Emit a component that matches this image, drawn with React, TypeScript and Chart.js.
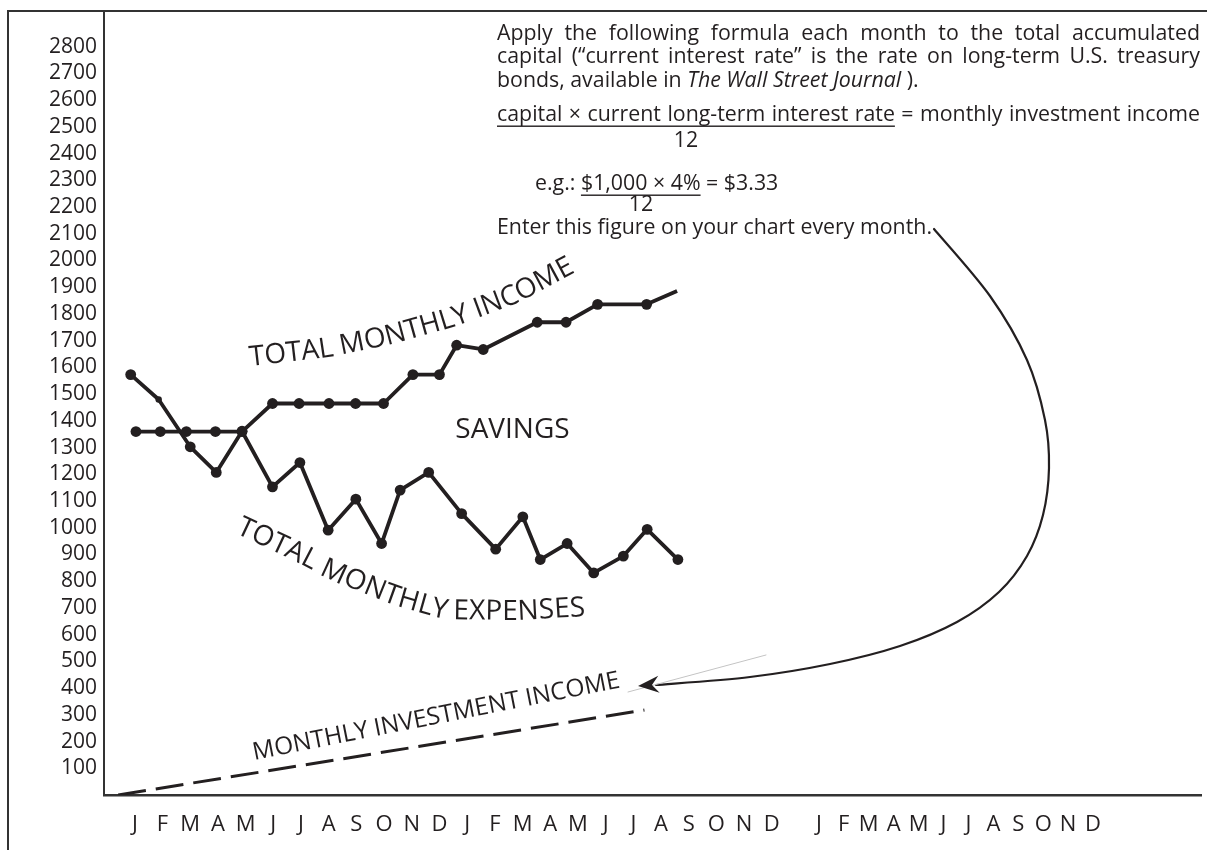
import React, { useEffect, useRef } from 'react';
import { Chart, registerables } from 'chart.js';

Chart.register(...registerables);

// ---------------- data ----------------
const monthLetters = ['J', 'F', 'M', 'A', 'M', 'J', 'J', 'A', 'S', 'O', 'N', 'D'];
const xTickLabels = [...monthLetters, ...monthLetters, ...monthLetters];
const xTickMonths = [
  0, 1, 2, 3, 4, 5, 6, 7, 8, 9, 10, 11,
  12, 13, 14, 15, 16, 17, 18, 19, 20, 21, 22, 23,
  24.7, 25.6, 26.5, 27.4, 28.3, 29.2, 30.1, 31.0, 31.9, 32.8, 33.7, 34.6,
];
const yTickValues = [
  100, 200, 300, 400, 500, 600, 700, 800, 900, 1000, 1100, 1200, 1300, 1400,
  1500, 1600, 1700, 1800, 1900, 2000, 2100, 2200, 2300, 2400, 2500, 2600, 2700, 2800,
];

const incomeMonths = [0.04, 0.92, 1.86, 2.91, 3.87, 4.97, 5.93, 7.01, 7.97, 8.98, 10.04, 11.0, 11.62, 12.58, 14.53, 15.57, 16.71, 18.48, 19.58];
const incomeValues = [1360, 1360, 1360, 1360, 1360, 1465, 1465, 1465, 1465, 1465, 1573, 1573, 1683, 1667, 1769, 1769, 1836, 1836, 1886];

const expenseMonths = [-0.15, 0.86, 2.0, 2.94, 3.87, 4.97, 5.96, 6.98, 7.98, 8.91, 9.58, 10.61, 11.8, 13.03, 14.01, 14.64, 15.61, 16.57, 17.64, 18.5, 19.61];
const expenseValues = [1573, 1480, 1303, 1207, 1361, 1153, 1244, 991, 1107, 941, 1141, 1207, 1053, 920, 1041, 881, 941, 831, 894, 994, 881];

const investmentMonths = [-0.6, 18.4];
const investmentValues = [0, 318];

// ---------------- annotation config ----------------
const incomeLabelPath = [[4.168, 1605.2], [7.007, 1638.9], [9.163, 1683.8], [11.498, 1751.2], [13.834, 1841.0], [15.918, 1957.0]];
const expenseLabelPath = [[3.629, 980.4], [5.929, 868.1], [7.007, 808.2], [9.342, 710.9], [11.139, 658.6], [13.834, 654.8], [16.277, 669.8]];
const savingsAnchor = [13.636, 1335.8];
const investLabelAnchor = [4.312, 131];

const noteLine1 = 'Apply the following formula each month to the total accumulated';
const noteLine2 = 'capital (\u201Ccurrent interest rate\u201D is the rate on long-term U.S. treasury';
const noteLine4 = 'capital \u00D7 current long-term interest rate = monthly investment income';
const noteEnter = 'Enter this figure on your chart every month.';

const INK = '#231f20';
const FONT = '"Open Sans", "Noto Sans", "DejaVu Sans", sans-serif';

function font(size: number, italic = false) {
  return `${italic ? 'italic ' : ''}${size}px ${FONT}`;
}

function drawScaled(ctx: CanvasRenderingContext2D, text: string, x: number, y: number, sx: number) {
  ctx.save();
  ctx.translate(x, y);
  ctx.scale(sx, 1);
  ctx.fillText(text, 0, 0);
  ctx.restore();
}

function drawJustified(ctx: CanvasRenderingContext2D, text: string, x0: number, x1: number, y: number, sx: number, underlineWords = 0) {
  const words = text.split(' ');
  const ws = words.map((w) => ctx.measureText(w).width * sx);
  const sum = ws.reduce((a, b) => a + b, 0);
  const gap = words.length > 1 ? (x1 - x0 - sum) / (words.length - 1) : 0;
  let x = x0;
  let ulEnd = x0;
  words.forEach((w, i) => {
    drawScaled(ctx, w, x, y, sx);
    x += ws[i];
    if (i === underlineWords - 1) ulEnd = x;
    x += gap;
  });
  return ulEnd;
}

type Run = { t: string; italic?: boolean; underline?: boolean };
function drawRuns(ctx: CanvasRenderingContext2D, runs: Run[], x: number, y: number, sx: number, size: number) {
  for (const r of runs) {
    ctx.font = font(size, !!r.italic);
    const w = ctx.measureText(r.t).width * sx;
    drawScaled(ctx, r.t, x, y, sx);
    if (r.underline) ctx.fillRect(x, y + 4.5, w, 1.4);
    x += w;
  }
  ctx.font = font(size);
  return x;
}

function textAlongPath(ctx: CanvasRenderingContext2D, text: string, pts: number[][], size: number) {
  ctx.font = font(size);
  const cum = [0];
  for (let i = 1; i < pts.length; i++) {
    cum.push(cum[i - 1] + Math.hypot(pts[i][0] - pts[i - 1][0], pts[i][1] - pts[i - 1][1]));
  }
  const total = cum[cum.length - 1];
  const at = (s: number) => {
    s = Math.max(0, Math.min(total, s));
    let i = 1;
    while (i < cum.length - 1 && cum[i] < s) i++;
    const t = (s - cum[i - 1]) / (cum[i] - cum[i - 1] || 1);
    return [pts[i - 1][0] + (pts[i][0] - pts[i - 1][0]) * t, pts[i - 1][1] + (pts[i][1] - pts[i - 1][1]) * t];
  };
  const chars = Array.from(text);
  const ws = chars.map((c) => ctx.measureText(c).width);
  const sum = ws.reduce((a, b) => a + b, 0);
  const extra = chars.length > 1 ? (total - sum) / (chars.length - 1) : 0;
  let s = 0;
  ctx.textAlign = 'center';
  ctx.textBaseline = 'alphabetic';
  chars.forEach((c, i) => {
    const mid = s + ws[i] / 2;
    const p = at(mid);
    const a = at(mid - 14);
    const b = at(mid + 14);
    const ang = Math.atan2(b[1] - a[1], b[0] - a[0]);
    ctx.save();
    ctx.translate(p[0], p[1]);
    ctx.rotate(ang);
    ctx.fillText(c, 0, 0);
    ctx.restore();
    s += ws[i] + extra;
  });
}

function smoothStroke(ctx: CanvasRenderingContext2D, pts: number[][]) {
  ctx.beginPath();
  ctx.moveTo(pts[0][0], pts[0][1]);
  for (let i = 0; i < pts.length - 1; i++) {
    const p0 = pts[i - 1] || pts[i];
    const p1 = pts[i];
    const p2 = pts[i + 1];
    const p3 = pts[i + 2] || p2;
    ctx.bezierCurveTo(
      p1[0] + (p2[0] - p0[0]) / 6, p1[1] + (p2[1] - p0[1]) / 6,
      p2[0] - (p3[0] - p1[0]) / 6, p2[1] - (p3[1] - p1[1]) / 6,
      p2[0], p2[1]
    );
  }
  ctx.stroke();
}

const arrowPts = [
  [934, 229], [990, 296], [1027, 360], [1045, 420], [1049, 468], [1043, 515], [1027, 556],
  [999, 592], [957, 622], [900, 646], [830, 664], [750, 677], [656, 685],
];

const decorPlugin = {
  id: 'decor',
  afterDraw(chart: any) {
    const ctx: CanvasRenderingContext2D = chart.ctx;
    const xs = chart.scales.x;
    const ys = chart.scales.y;
    const toPx = (p: number[]) => [xs.getPixelForValue(p[0]), ys.getPixelForValue(p[1])];
    const area = chart.chartArea;
    ctx.save();

    // outer frame
    ctx.strokeStyle = '#333';
    ctx.lineWidth = 2;
    ctx.beginPath();
    ctx.moveTo(8, chart.height);
    ctx.lineTo(8, area.top);
    ctx.lineTo(chart.width, area.top);
    ctx.stroke();

    ctx.fillStyle = INK;

    // series labels
    textAlongPath(ctx, 'TOTAL MONTHLY INCOME', incomeLabelPath.map(toPx), 28);
    textAlongPath(ctx, 'TOTAL MONTHLY EXPENSES', expenseLabelPath.map(toPx), 28);

    ctx.font = font(28);
    ctx.textAlign = 'center';
    ctx.textBaseline = 'alphabetic';
    const sp = toPx(savingsAnchor);
    ctx.fillText('SAVINGS', sp[0], sp[1]);

    const ip = toPx(investLabelAnchor);
    ctx.save();
    ctx.translate(ip[0], ip[1]);
    ctx.rotate((-11.2 * Math.PI) / 180);
    ctx.font = font(24.5);
    ctx.textAlign = 'left';
    ctx.fillText('MONTHLY INVESTMENT INCOME', 0, 0);
    ctx.restore();

    // explanatory note
    ctx.font = font(21);
    ctx.textAlign = 'left';
    ctx.textBaseline = 'alphabetic';
    const sx = 435 / ctx.measureText(noteEnter).width;
    drawJustified(ctx, noteLine1, 497, 1200, 40, sx);
    drawJustified(ctx, noteLine2, 497, 1200, 63, sx);
    drawRuns(ctx, [{ t: 'bonds, available in ' }, { t: 'The Wall Street Journal', italic: true }, { t: ' ).' }], 497, 87, sx, 21);
    const ulEnd = drawJustified(ctx, noteLine4, 497, 1200, 121, sx, 6);
    ctx.fillRect(497, 125.5, ulEnd - 497, 1.4);
    ctx.textAlign = 'center';
    drawScaled(ctx, '12', 686, 147, sx);
    ctx.textAlign = 'left';
    drawRuns(ctx, [{ t: 'e.g.: ' }, { t: '$1,000 \u00D7 4%', underline: true }, { t: ' = $3.33' }], 535, 190, sx, 21);
    ctx.textAlign = 'center';
    drawScaled(ctx, '12', 641, 211, sx);
    ctx.textAlign = 'left';
    drawScaled(ctx, noteEnter, 497, 234, sx);

    // arrow
    ctx.strokeStyle = INK;
    ctx.lineWidth = 2.2;
    ctx.lineCap = 'round';
    smoothStroke(ctx, arrowPts);
    // thin grey guide
    ctx.strokeStyle = '#c4c4c4';
    ctx.lineWidth = 1;
    ctx.beginPath();
    ctx.moveTo(628, 692);
    ctx.lineTo(766, 655);
    ctx.stroke();
    // arrowhead
    const tip = [638, 686];
    const last = arrowPts[arrowPts.length - 2];
    let dx = tip[0] - last[0];
    let dy = tip[1] - last[1];
    const L = Math.hypot(dx, dy);
    dx /= L; dy /= L;
    const nx = -dy, ny = dx;
    const bx = tip[0] - dx * 21, by = tip[1] - dy * 21;
    ctx.fillStyle = INK;
    ctx.beginPath();
    ctx.moveTo(tip[0], tip[1]);
    ctx.lineTo(bx + nx * 8.5, by + ny * 8.5);
    ctx.lineTo(tip[0] - dx * 14, tip[1] - dy * 14);
    ctx.lineTo(bx - nx * 8.5, by - ny * 8.5);
    ctx.closePath();
    ctx.fill();

    ctx.restore();
  },
};

export default function App() {
  const canvasRef = useRef<HTMLCanvasElement | null>(null);

  useEffect(() => {
    const canvas = canvasRef.current;
    if (!canvas) return;
    const toXY = (xs: number[], ys: number[]) => xs.map((x, i) => ({ x, y: ys[i] }));
    const chart = new Chart(canvas, {
      type: 'line',
      data: {
        datasets: [
          {
            label: 'Total monthly income',
            data: toXY(incomeMonths, incomeValues),
            borderColor: INK,
            backgroundColor: INK,
            borderWidth: 3.8,
            borderJoinStyle: 'round',
            pointRadius: (c: any) => (c.dataIndex === incomeValues.length - 1 ? 0 : 5.4),
            pointBackgroundColor: INK,
            pointBorderWidth: 0,
            tension: 0,
          },
          {
            label: 'Total monthly expenses',
            data: toXY(expenseMonths, expenseValues),
            borderColor: INK,
            backgroundColor: INK,
            borderWidth: 3.8,
            borderJoinStyle: 'round',
            pointRadius: (c: any) => (c.dataIndex === 1 ? 3.2 : 5.4),
            pointBackgroundColor: INK,
            pointBorderWidth: 0,
            tension: 0,
          },
          {
            label: 'Monthly investment income',
            data: toXY(investmentMonths, investmentValues),
            borderColor: INK,
            borderWidth: 3,
            borderDash: [28, 10],
            pointRadius: 0,
            tension: 0,
          },
        ],
      } as any,
      options: {
        animation: false,
        responsive: false,
        maintainAspectRatio: false,
        layout: { padding: { top: 11, left: 0, right: 0, bottom: 0 } },
        plugins: {
          legend: { display: false },
          tooltip: { enabled: false },
        },
        scales: {
          x: {
            type: 'linear',
            min: -1.114,
            max: 38.52,
            grid: { display: false, drawTicks: false },
            border: { display: true, color: '#333', width: 2.5 },
            ticks: {
              autoSkip: false,
              maxRotation: 0,
              minRotation: 0,
              padding: 17,
              color: INK,
              font: { family: FONT, size: 22 },
              callback: (_v: any, i: number) => xTickLabels[i],
            },
            afterBuildTicks: (s: any) => {
              s.ticks = xTickMonths.map((v) => ({ value: v }));
            },
            afterFit: (s: any) => {
              s.height = 55;
              s.paddingLeft = 0; s.paddingRight = 0; s.paddingTop = 0; s.paddingBottom = 0;
            },
          },
          y: {
            type: 'linear',
            min: 0,
            max: 2933.6,
            grid: { display: false, drawTicks: false },
            border: { display: true, color: '#333', width: 2 },
            ticks: {
              padding: 7,
              color: INK,
              font: { family: FONT, size: 21 },
              callback: (v: any) => String(v),
            },
            afterBuildTicks: (s: any) => {
              s.ticks = yTickValues.map((v) => ({ value: v }));
            },
            afterFit: (s: any) => {
              s.width = 104;
              s.paddingLeft = 0; s.paddingRight = 0; s.paddingTop = 0; s.paddingBottom = 0;
            },
          },
        },
      } as any,
      plugins: [decorPlugin as any],
    });
    return () => chart.destroy();
  }, []);

  return (
    <div style={{ position: 'fixed', left: 0, top: 0, width: 1207, height: 850, background: '#fff' }}>
      <canvas ref={canvasRef} width={1207} height={850} style={{ display: 'block', width: 1207, height: 850 }} />
    </div>
  );
}
